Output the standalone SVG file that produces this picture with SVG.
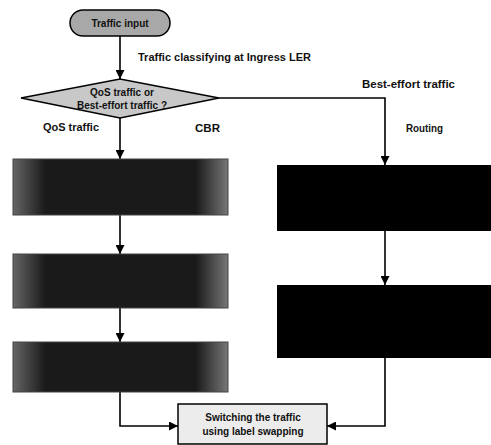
<svg xmlns="http://www.w3.org/2000/svg" width="491" height="445" viewBox="0 0 491 445">
<style>
.lbl{font-family:"Liberation Sans",Arial,sans-serif;font-size:10.5px;font-weight:bold;fill:#111}
.in{font-family:"Liberation Sans",Arial,sans-serif;font-size:10px;font-weight:bold;fill:#111;text-anchor:middle}
.c{fill:none;stroke:#000;stroke-width:1.6}
</style>
<defs>
<marker id="ah" viewBox="0 0 10 10" refX="10" refY="5" markerWidth="9" markerHeight="9" markerUnits="userSpaceOnUse" orient="auto">
<path d="M0,0 L10,5 L0,10 Z" fill="#000"/>
</marker>
<linearGradient id="dk" x1="0" y1="0" x2="1" y2="0">
<stop offset="0" stop-color="#666"/>
<stop offset="0.15" stop-color="#1a1a1a"/>
<stop offset="0.85" stop-color="#1a1a1a"/>
<stop offset="1" stop-color="#777"/>
</linearGradient>
</defs>
<rect width="491" height="445" fill="#fff"/>
<g id="connectors">
<line class="c" x1="120" y1="36" x2="120" y2="79" marker-end="url(#ah)"/>
<line class="c" x1="120" y1="118" x2="120" y2="159" marker-end="url(#ah)"/>
<line class="c" x1="120" y1="215" x2="120" y2="254" marker-end="url(#ah)"/>
<line class="c" x1="120" y1="308" x2="120" y2="342" marker-end="url(#ah)"/>
<polyline class="c" points="120,392 120,426 178,426" marker-end="url(#ah)"/>
<polyline class="c" points="219,98 385,98 385,165" marker-end="url(#ah)"/>
<line class="c" x1="385" y1="231" x2="385" y2="285" marker-end="url(#ah)"/>
<polyline class="c" points="385,358 385,426 327,426" marker-end="url(#ah)"/>
</g>
<g id="start">
<rect x="70" y="10" width="100" height="26" rx="13" fill="#a8a8a8" stroke="#000" stroke-width="1.5"/>
<text class="in" x="120" y="27">Traffic input</text>
</g>
<g id="decision">
<polygon points="21,98 120,79 219,98 120,118" fill="#c8c8c8" stroke="#000" stroke-width="1.5"/>
<text class="in" x="122" y="96" font-size="9.5">QoS traffic or</text>
<text class="in" x="122" y="109" font-size="9.5">Best-effort traffic ?</text>
</g>
<g id="cbr1"><rect x="13" y="159" width="215" height="56" fill="url(#dk)" stroke="#444"/></g>
<g id="cbr2"><rect x="13" y="254" width="215" height="54" fill="url(#dk)" stroke="#444"/></g>
<g id="cbr3"><rect x="13" y="342" width="215" height="50" fill="url(#dk)" stroke="#444"/></g>
<g id="route1"><rect x="277" y="165" width="214" height="66" fill="#000"/></g>
<g id="route2"><rect x="277" y="285" width="214" height="73" fill="#000"/></g>
<g id="switch">
<rect x="178" y="404" width="149" height="40" fill="#ececec" stroke="#000" stroke-width="1.5"/>
<text class="in" x="253" y="421">Switching the traffic</text>
<text class="in" x="253" y="435">using label swapping</text>
</g>
<g id="labels">
<text class="lbl" x="138" y="61" textLength="173" lengthAdjust="spacingAndGlyphs">Traffic classifying at Ingress LER</text>
<text class="lbl" x="362" y="88" textLength="93" lengthAdjust="spacingAndGlyphs">Best-effort traffic</text>
<text class="lbl" x="43" y="131" textLength="56" lengthAdjust="spacingAndGlyphs">QoS traffic</text>
<text class="lbl" x="195" y="132" textLength="25" lengthAdjust="spacingAndGlyphs">CBR</text>
<text class="lbl" x="406" y="132" textLength="37" lengthAdjust="spacingAndGlyphs">Routing</text>
</g>
</svg>
